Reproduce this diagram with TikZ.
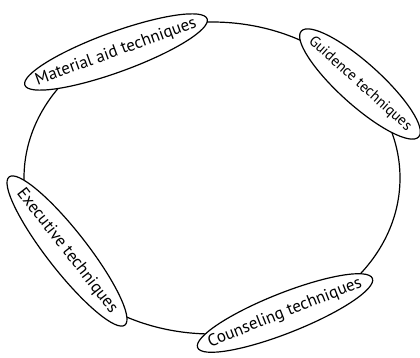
\documentclass[tikz,border=0pt]{standalone}
\usepackage{fontspec}
\setmainfont{PT Sans}
\usetikzlibrary{shapes.geometric}
\newcommand{\ztext}[1]{\makebox[0pt]{#1}}
\begin{document}
\begin{tikzpicture}[x=1pt,y=-1pt,
  tech/.style={draw, ellipse, fill=white, line width=1.2pt, inner sep=0pt,
    minimum height=40pt, font=\fontsize{17}{19}\selectfont}]
\useasboundingbox (0,0) rectangle (420,358);
\draw[line width=1.2pt] (212,178) ellipse [x radius=188, y radius=156];
\node[tech, rotate=20, minimum width=194pt] (mat) at (116,52) {\ztext{Material aid techniques}};
\node[tech, rotate=-42, minimum width=158pt, minimum height=42pt, font=\fontsize{15}{17}\selectfont] (gui) at (360,84) {\ztext{Guidence techniques}};
\node[tech, rotate=-52, minimum width=188pt] (exe) at (67,251) {\ztext{Executive techniques}};
\node[tech, rotate=21.6, minimum width=188pt] (cou) at (285,313) {\ztext{Counseling techniques}};
\end{tikzpicture}
\end{document}
